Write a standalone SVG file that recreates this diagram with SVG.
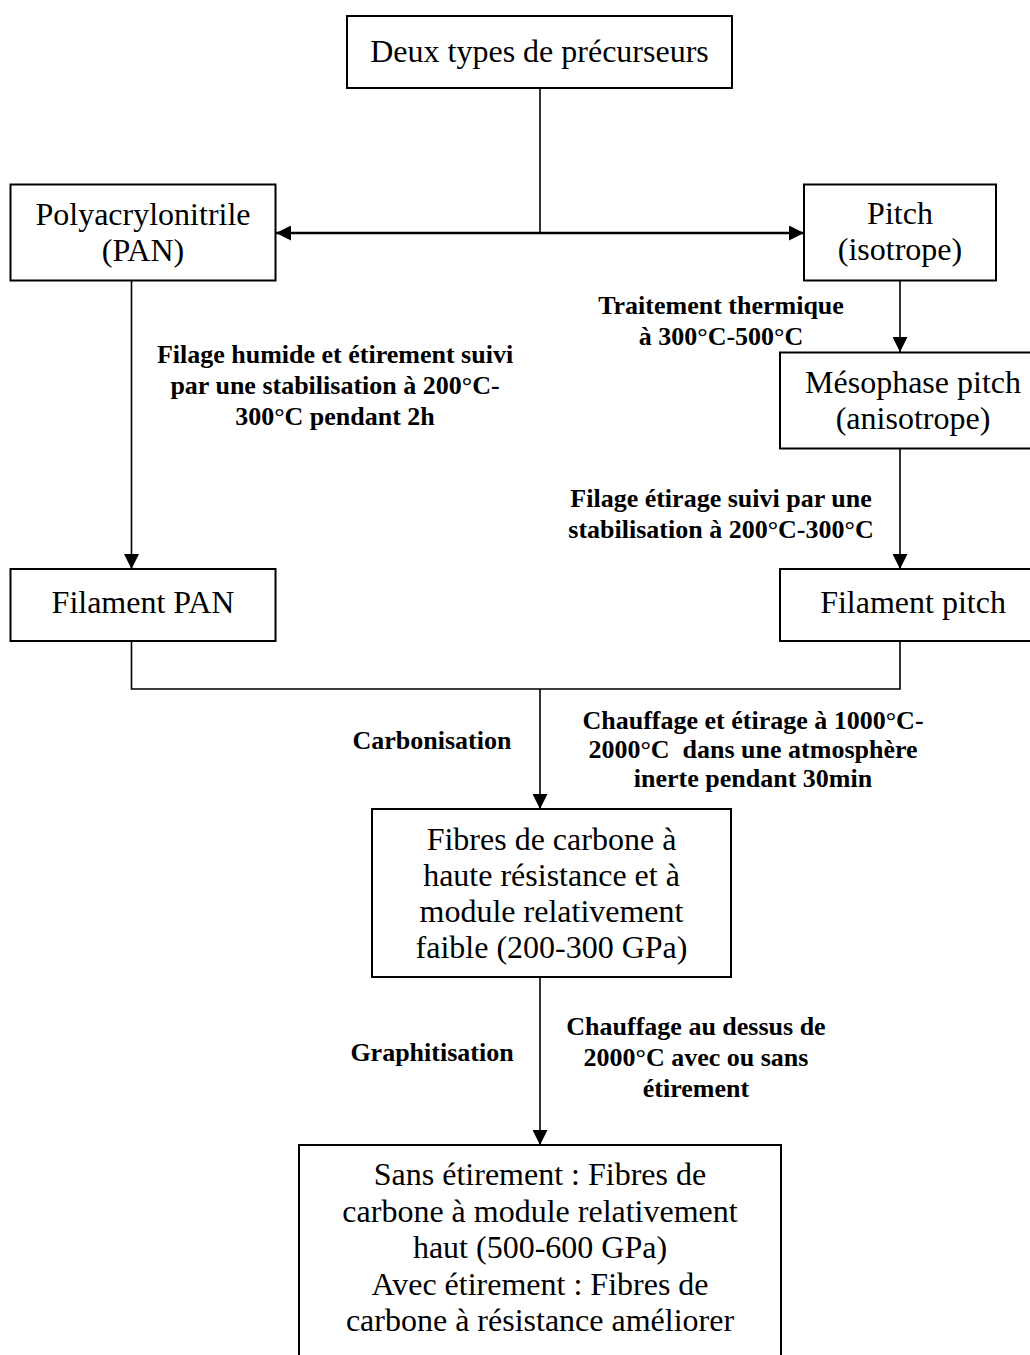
<svg xmlns="http://www.w3.org/2000/svg" width="1030" height="1355" viewBox="0 0 1030 1355">
<style>
.box{fill:#fff;stroke:#000;stroke-width:2}
.bt{font-family:"Liberation Serif","Times New Roman",serif;font-size:32px;fill:#000;text-anchor:middle}
.lb{font-family:"Liberation Serif","Times New Roman",serif;font-size:26px;font-weight:bold;fill:#000;text-anchor:middle}
.ln{fill:none;stroke:#000;stroke-width:1.6}
.thick{stroke-width:2.6}
</style>
<defs>
<marker id="ah" viewBox="0 0 15 15" refX="15" refY="7.5" markerWidth="15" markerHeight="15" markerUnits="userSpaceOnUse" orient="auto-start-reverse">
<path d="M0,0 L15,7.5 L0,15 Z" fill="#000"/>
</marker>
</defs>
<rect width="1030" height="1355" fill="#fff"/>
<g id="connectors">
<path class="ln" d="M540,88 V233"/>
<path class="ln thick" d="M276,233 H804" marker-start="url(#ah)" marker-end="url(#ah)"/>
<path class="ln" d="M131.5,281 V569" marker-end="url(#ah)"/>
<path class="ln" d="M900,281 V352" marker-end="url(#ah)"/>
<path class="ln" d="M900,449 V569" marker-end="url(#ah)"/>
<path class="ln" d="M131.5,641 V689 H900 V641"/>
<path class="ln" d="M540,689 V809" marker-end="url(#ah)"/>
<path class="ln" d="M540,977 V1145" marker-end="url(#ah)"/>
</g>
<g id="labels">
<text class="lb" x="335" y="363">Filage humide et étirement suivi</text>
<text class="lb" x="335" y="394">par une stabilisation à 200°C-</text>
<text class="lb" x="335" y="425">300°C pendant 2h</text>
<text class="lb" x="721" y="314">Traitement thermique</text>
<text class="lb" x="721" y="345">à 300°C-500°C</text>
<text class="lb" x="721" y="507">Filage étirage suivi par une</text>
<text class="lb" x="721" y="538">stabilisation à 200°C-300°C</text>
<text class="lb" x="432" y="749">Carbonisation</text>
<text class="lb" x="753" y="729">Chauffage et étirage à 1000°C-</text>
<text class="lb" x="753" y="758" xml:space="preserve">2000°C  dans une atmosphère</text>
<text class="lb" x="753" y="787">inerte pendant 30min</text>
<text class="lb" x="432" y="1061">Graphitisation</text>
<text class="lb" x="696" y="1035">Chauffage au dessus de</text>
<text class="lb" x="696" y="1066">2000°C avec ou sans</text>
<text class="lb" x="696" y="1097">étirement</text>
</g>
<g id="n-precurseurs">
<rect class="box" x="347" y="16" width="385" height="72"/>
<text class="bt" x="539.5" y="62">Deux types de précurseurs</text>
</g>
<g id="n-pan">
<rect class="box" x="10.5" y="184.5" width="265" height="96"/>
<text class="bt" x="143" y="225">Polyacrylonitrile</text>
<text class="bt" x="143" y="261">(PAN)</text>
</g>
<g id="n-pitch">
<rect class="box" x="804" y="184.5" width="192" height="96"/>
<text class="bt" x="900" y="224">Pitch</text>
<text class="bt" x="900" y="260">(isotrope)</text>
</g>
<g id="n-mesophase">
<rect class="box" x="780" y="352.5" width="270" height="96"/>
<text class="bt" x="913" y="393">Mésophase pitch</text>
<text class="bt" x="913" y="429">(anisotrope)</text>
</g>
<g id="n-filament-pan">
<rect class="box" x="10.5" y="569" width="265" height="72"/>
<text class="bt" x="143" y="613">Filament PAN</text>
</g>
<g id="n-filament-pitch">
<rect class="box" x="780" y="569" width="270" height="72"/>
<text class="bt" x="913" y="613">Filament pitch</text>
</g>
<g id="n-fibres">
<rect class="box" x="372" y="809" width="359" height="168"/>
<text class="bt" x="551.5" y="850">Fibres de carbone à</text>
<text class="bt" x="551.5" y="886">haute résistance et à</text>
<text class="bt" x="551.5" y="922">module relativement</text>
<text class="bt" x="551.5" y="958">faible (200-300 GPa)</text>
</g>
<g id="n-graphite">
<rect class="box" x="299" y="1145" width="482" height="240"/>
<text class="bt" x="540" y="1185">Sans étirement : Fibres de</text>
<text class="bt" x="540" y="1221.5">carbone à module relativement</text>
<text class="bt" x="540" y="1258">haut (500-600 GPa)</text>
<text class="bt" x="540" y="1294.5">Avec étirement : Fibres de</text>
<text class="bt" x="540" y="1331">carbone à résistance améliorer</text>
</g>
</svg>
